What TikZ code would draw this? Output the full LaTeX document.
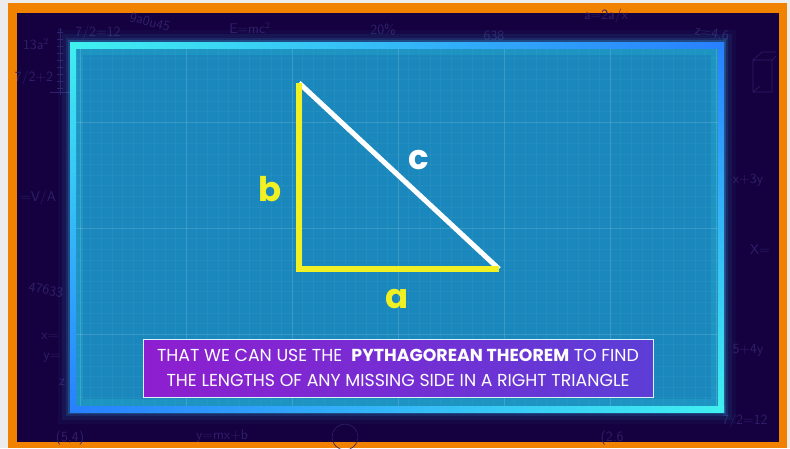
\documentclass[tikz,border=0pt]{standalone}
\usepackage{fontspec}
\newfontfamily\poppins{Poppins}
\usetikzlibrary{positioning, calc}

\definecolor{framebg}{RGB}{236,236,236}
\definecolor{frameorange}{RGB}{240,130,0}
\definecolor{nightbg}{RGB}{21,1,64}
\definecolor{scribble}{RGB}{46,32,106}
\definecolor{panelblue}{RGB}{26,136,188}
\definecolor{glowcyan}{RGB}{64,240,240}
\definecolor{glowblue}{RGB}{40,128,255}
\definecolor{legyellow}{RGB}{240,240,34}
\definecolor{capleft}{RGB}{142,30,208}
\definecolor{capright}{RGB}{92,62,214}

\begin{document}
\begin{tikzpicture}[x=0.03cm, y=-0.03cm,
    scrib/.style={text=scribble, font=\sffamily\fontsize{12}{12}\selectfont, inner sep=0pt},
    gridline/.style={white, opacity=0.04, line width=0.5pt},
    majorline/.style={white, opacity=0.11, line width=0.7pt},
    leg/.style={draw=legyellow, line width=4.3pt, line join=miter},
    hyp/.style={draw=white, line width=4.3pt},
    sidelabel/.style={font=\poppins\bfseries\fontsize{29}{30}\selectfont, inner sep=0pt},
    captext/.style={text=white, align=center, inner sep=0pt,
      font=\poppins\fontsize{14.8}{21.3}\selectfont}
  ]
  \useasboundingbox (0,0) rectangle (790,448);
  % frame and night background
  \fill[framebg] (0,0) rectangle (790,448);
  \fill[frameorange] (8,3) rectangle (787,448);
  \fill[nightbg] (17,13) rectangle (779,442);

  % faint scribbles behind the board
  \foreach \sx/\sy/\stxt/\sang [count=\k] in {
      36/44/{13a$^2$}/0, 34/78/{7/2+2}/0, 98/33/{7/2=12}/0,
      150/22/{9a0u45}/-15, 250/28/{E=mc$^2$}/0, 383/30/{20\%}/0,
      494/36/{638}/0, 606/16/{a=2a/x}/0, 712/33/{z=4.6}/-10,
      38/198/{=V/A}/0, 46/290/{47633}/-10, 50/336/{x=}/0, 52/358/{y=}/0, 62/382/{z}/0,
      748/180/{x+3y}/0, 760/250/{X=}/0, 748/350/{5+4y}/0, 745/421/{7/2=12}/0,
      70/438/{(5,4)}/0, 222/436/{y=mx+b}/0, 612/438/{(2.6}/0}
    \node[scrib, rotate=\sang] (scrib\k) at (\sx,\sy) {\stxt};
  \draw[scribble, line width=0.5pt, ->] (60,95) -- (60,28);
  \draw[scribble, line width=0.5pt] (50,92) -- (72,92);
  \foreach \t in {0,...,8} \draw[scribble, line width=0.4pt] (57,88-\t*7) -- (63,88-\t*7);
  \draw[scribble, line width=0.5pt] (753,60) rectangle (772,92) (753,60) -- (762,52) -- (776,52)
    (772,60) -- (776,56) (753,92) -- (760,86);
  \draw[scribble, line width=0.5pt] (345,437) circle (13);

  % glowing board
  \foreach \w/\o in {26/0.04, 18/0.07, 12/0.12, 8/0.2}
    \draw[glowcyan!60!glowblue, line width=\w pt, opacity=\o] (73,45) rectangle (721,409);
  \fill[panelblue] (70,42) rectangle (724,412);
  \draw[glowcyan, opacity=0.12, line width=6pt] (79,51) rectangle (715,403);

  % grid on the board
  \begin{scope}
    \clip (76,48) rectangle (718,406);
    \foreach \i in {0,...,61} \draw[gridline] (80+\i*10.6,48) -- (80+\i*10.6,406);
    \foreach \j in {0,...,35} \draw[gridline] (76,47.8+\j*10.6) -- (718,47.8+\j*10.6);
    \foreach \i in {0,...,6} \draw[majorline] (80+\i*106,48) -- (80+\i*106,406);
    \foreach \j in {0,...,3} \draw[majorline] (76,16+\j*106) -- (718,16+\j*106);
  \end{scope}

  % board edges, cyan to blue
  \shade[left color=glowcyan, right color=glowblue] (70,42) rectangle (724,48);
  \shade[top color=glowblue, bottom color=glowcyan] (718,42) rectangle (724,412);
  \shade[left color=glowblue, right color=glowcyan] (70,406) rectangle (724,412);
  \shade[top color=glowcyan, bottom color=glowblue] (70,42) rectangle (76,412);

  % right triangle
  \coordinate (top) at (299,83);
  \coordinate (corner) at (299,269);
  \coordinate (right) at (499,269);
  \draw[hyp] (top) -- (right);
  \draw[leg] (top) -- (corner) -- (right);
  \node[sidelabel, text=legyellow] (sideb) at (270,189) {b};
  \node[sidelabel, text=white] (sidec) at (419,160) {c};
  \node[sidelabel, text=legyellow] (sidea) at (397,299) {a};

  % caption box
  \coordinate (capNW) at (143,339);
  \coordinate (capSE) at (653,397);
  \shade[left color=capleft, right color=capright] (capNW) rectangle (capSE);
  \draw[white!85!cyan, line width=0.8pt] (capNW) rectangle (capSE);
  \node[captext] (caption) at ($(capNW)!0.5!(capSE)$)
    {THAT WE CAN USE THE \ \textbf{PYTHAGOREAN THEOREM} TO FIND\\
     THE LENGTHS OF ANY MISSING SIDE IN A RIGHT TRIANGLE};
\end{tikzpicture}
\end{document}
